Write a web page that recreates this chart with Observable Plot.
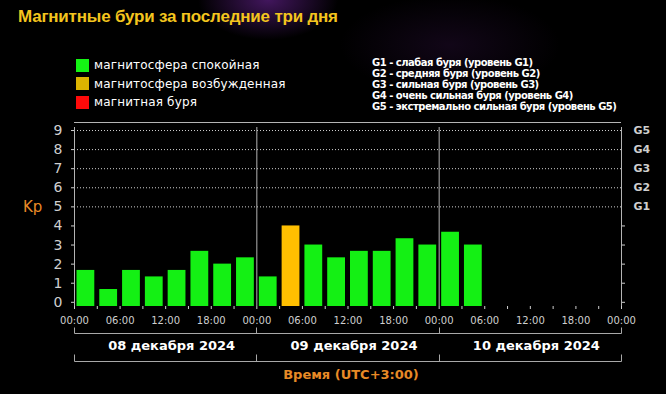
<!DOCTYPE html>
<html><head><meta charset="utf-8">
<script src="https://cdn.jsdelivr.net/npm/d3@7"></script>
<script src="https://cdn.jsdelivr.net/npm/@observablehq/plot@0.6"></script>
<style>
html,body{margin:0;padding:0;background:#000;}
#wrap{position:relative;width:666px;height:394px;overflow:hidden;
 background:
  radial-gradient(ellipse 70px 40px at 268px 0px, rgba(120,40,170,0.55), rgba(0,0,0,0)),
  radial-gradient(ellipse 110px 50px at 450px 45px, rgba(70,25,95,0.25), rgba(0,0,0,0)),
  #000;}
#chart{position:absolute;left:0;top:0;}
.t{position:absolute;white-space:nowrap;}
#title{left:18px;top:7px;font:bold 17px "Liberation Sans",Arial,sans-serif;color:#f4c51e;line-height:20px;letter-spacing:-0.2px;}
.sq{position:absolute;left:76px;width:13px;height:13px;}
.lg{position:absolute;left:94px;font:12px "DejaVu Sans",sans-serif;color:#fff;line-height:14px;letter-spacing:0.15px;}
#glev{position:absolute;left:372px;top:58px;font:bold 10px "DejaVu Sans",sans-serif;color:#fff;line-height:10.9px;letter-spacing:-0.5px;}
#kp{position:absolute;left:23px;top:197px;font:15px "DejaVu Sans",sans-serif;color:#e88a26;line-height:20px;}
</style></head>
<body>
<div id="wrap">
  <div id="chart"></div>
  <div id="title" class="t"></div>
  <div id="legend"></div>
  <div id="glev" class="t"></div>
  <div id="kp" class="t"></div>
</div>
<script>
// ---- data ----
const titleText = "Магнитные бури за последние три дня";
const intervalStarts = [
  "2024-12-08T00:00Z","2024-12-08T03:00Z","2024-12-08T06:00Z","2024-12-08T09:00Z",
  "2024-12-08T12:00Z","2024-12-08T15:00Z","2024-12-08T18:00Z","2024-12-08T21:00Z",
  "2024-12-09T00:00Z","2024-12-09T03:00Z","2024-12-09T06:00Z","2024-12-09T09:00Z",
  "2024-12-09T12:00Z","2024-12-09T15:00Z","2024-12-09T18:00Z","2024-12-09T21:00Z",
  "2024-12-10T00:00Z","2024-12-10T03:00Z"
];
const kpValues = [1.67,0.67,1.67,1.33,1.67,2.67,2.0,2.33, 1.33,4.0,3.0,2.33,2.67,2.67,3.33,3.0, 3.67,3.0];
const dayLabels = ["08 декабря 2024","09 декабря 2024","10 декабря 2024"];
const dayBoundaries = ["2024-12-08T00:00Z","2024-12-09T00:00Z","2024-12-10T00:00Z","2024-12-11T00:00Z"];
const kpTicks = [0,1,2,3,4,5,6,7,8,9];
const gTicks = [5,6,7,8,9];
const gTickLabels = ["G1","G2","G3","G4","G5"];
const gLegend = [
  "G1 - слабая буря (уровень G1)",
  "G2 - средняя буря (уровень G2)",
  "G3 - сильная буря (уровень G3)",
  "G4 - очень сильная буря (уровень G4)",
  "G5 - экстремально сильная буря (уровень G5)"
];
const legendLabels = ["магнитосфера спокойная","магнитосфера возбужденная","магнитная буря"];
const legendColors = ["#14f514","#dcb400","#ff0a0a"];
const barColors = {calm:"#14f014", active:"#ffbf00", storm:"#ff1010"};
const axisTitle = "Время (UTC+3:00)";
const yLabel = "Kp";

// ---- build ----
const Y_MIN = -0.22, Y_MAX = 9.42;
const bars = intervalStarts.map((s, i) => {
  const start = new Date(s);
  return {start, end: d3.utcHour.offset(start, 3), kp: kpValues[i],
    state: kpValues[i] >= 5 ? "storm" : kpValues[i] >= 4 ? "active" : "calm"};
});
const bounds = dayBoundaries.map(d => new Date(d));
const days = dayLabels.map((label, i) => ({label, mid: d3.utcHour.offset(bounds[i], 12)}));
const xTicks = d3.utcHour.every(3).range(bounds[0], d3.utcHour.offset(bounds[3], 1));
const fmt = d3.utcFormat("%H:%M");

function brackets(index, scales, values, dims) {
  const g = d3.create("svg:g").attr("stroke", "#a8a8a8").attr("fill", "none").attr("stroke-width", 1);
  const fb = dims.height - dims.marginBottom;
  const xs = bounds.map(d => Math.round(scales.x(d)) + 0.5);
  [[27, 6], [55, 7]].forEach(([off, len]) => {
    const y = fb + off + 0.5;
    g.append("line").attr("x1", xs[0]).attr("x2", xs[xs.length-1]).attr("y1", y).attr("y2", y);
    xs.forEach(x => g.append("line").attr("x1", x).attr("x2", x).attr("y1", y - len).attr("y2", y));
  });
  return g.node();
}

const plot = Plot.plot({
  width: 666, height: 394,
  marginTop: 122, marginBottom: 88, marginLeft: 74, marginRight: 45,
  style: {background: "transparent", color: "#cfcfcf", fontFamily: "DejaVu Sans"},
  x: {type: "utc", domain: [bounds[0], bounds[3]]},
  y: {domain: [Y_MIN, Y_MAX]},
  marks: [
    Plot.ruleY(gTicks, {stroke: "#d0d0d0", strokeDasharray: "1 2", insetRight: -2}),
    Plot.rectY(bars, {x1: "start", x2: "end", y1: Y_MIN, y2: "kp",
      fill: d => barColors[d.state], insetLeft: 2.5, insetRight: 2.5}),
    Plot.ruleY([Y_MAX], {stroke: "#b4b4b4"}),
    Plot.ruleX(bounds, {y1: Y_MIN, y2: Y_MAX, stroke: "#b4b4b4", insetBottom: -5}),
    Plot.axisX({ticks: xTicks, tickFormat: d => d.getUTCHours() % 6 === 0 ? fmt(d) : "",
      tickSize: 3, tickPadding: 7, fontSize: 10, label: null}),
    Plot.axisY({anchor: "left", ticks: kpTicks, tickSize: 3, tickPadding: 9, fontSize: 14, label: null}),
    Plot.axisY({anchor: "right", ticks: [0,1,2,3,4], tickSize: 3, tickFormat: () => "", label: null}),
    Plot.axisY({anchor: "right", ticks: gTicks, tickSize: 0, tickPadding: 12,
      tickFormat: d => gTickLabels[gTicks.indexOf(d)], fontSize: 11, fontWeight: "bold", label: null}),
    brackets,
    Plot.text(days, {x: "mid", text: "label", frameAnchor: "bottom", dy: 43, dx: 6,
      fill: "#ffffff", fontSize: 13, fontWeight: "bold"}),
    Plot.text([axisTitle], {frameAnchor: "bottom", dy: 72, dx: 3,
      fill: "#e88a26", fontSize: 13, fontWeight: "bold"})
  ]
});
document.getElementById("chart").appendChild(plot);

document.getElementById("title").textContent = titleText;
document.getElementById("kp").textContent = yLabel;
document.getElementById("glev").innerHTML = gLegend.map(s => `<div>${s}</div>`).join("");
const lg = document.getElementById("legend");
const sqTops = [58.5, 77, 95.5];
legendLabels.forEach((label, i) => {
  const sq = document.createElement("div");
  sq.className = "sq"; sq.style.top = sqTops[i] + "px"; sq.style.background = legendColors[i];
  lg.appendChild(sq);
  const t = document.createElement("div");
  t.className = "lg t"; t.style.top = (sqTops[i] - 0.5) + "px"; t.textContent = label;
  lg.appendChild(t);
});
</script>
</body></html>
